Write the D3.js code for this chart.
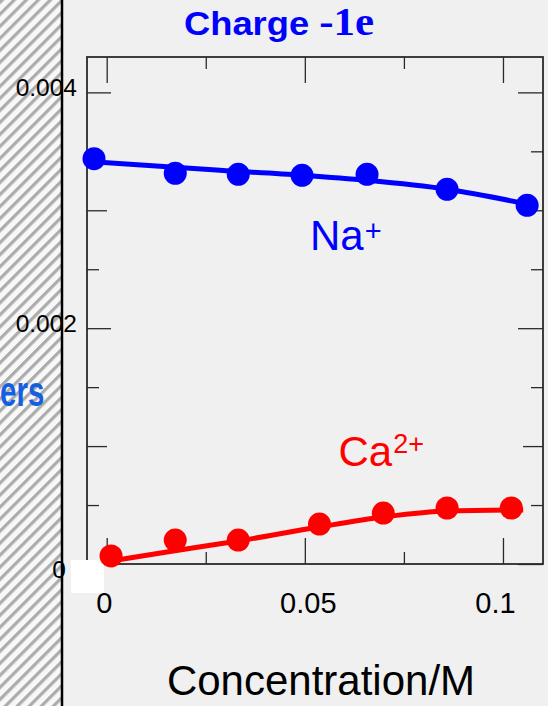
<!DOCTYPE html>
<html>
<head>
<meta charset="utf-8">
<script src="https://cdn.jsdelivr.net/npm/d3@7"></script>
<style>
  html, body { margin: 0; padding: 0; background: #f0f0f0; }
  svg { display: block; }
  text { font-family: "Liberation Sans", Arial, sans-serif; }
</style>
</head>
<body>
<svg id="chart" width="548" height="706"></svg>
<script>
// Na+ points: concentration (M) and value
const naConc = [-0.0032, 0.0173, 0.0332, 0.0493, 0.0657, 0.0859, 0.1061];
const naVal  = [0.003438, 0.003314, 0.003305, 0.003297, 0.003305, 0.003178, 0.003042];
// Ca2+ points
const caConc = [0.0011, 0.0173, 0.0332, 0.0537, 0.0698, 0.0859, 0.1021];
const caVal  = [0.000068, 0.000203, 0.000203, 0.000339, 0.000432, 0.000475, 0.000475];
// Smooth trend curves through each series
const naFitConc = [-0.0017, 0.0286, 0.0493, 0.0657, 0.0859, 0.1076];
const naFitVal  = [0.003407, 0.003339, 0.003297, 0.003254, 0.003178, 0.003042];
const caFitConc = [0.0011, 0.0152, 0.0332, 0.0536, 0.0698, 0.0859, 0.1051];
const caFitVal  = [0.000025, 0.000102, 0.000195, 0.000314, 0.000398, 0.000449, 0.000458];
// Tick values and labels
const xMajorTicks = [0, 0.05, 0.1];
const xMinorTicks = [0.025, 0.075];
const xTickLabels = ["0", "0.05", "0.1"];
const yMajorTicks = [0, 0.002, 0.004];
const yMidTicks   = [0.001, 0.003];
const yMinorTicks = [0.0005, 0.0015, 0.0025, 0.0035];
const yTickLabels = ["0", "0.002", "0.004"];

const svg = d3.select("#chart");
const W = 548, H = 706;
const plot = { left: 87, right: 543, top: 57, bottom: 564 };

const x = d3.scaleLinear().domain([-0.00497, 0.1101]).range([plot.left, plot.right]);
const y = d3.scaleLinear().domain([0, 0.0043]).range([plot.bottom, plot.top]);

// page background
svg.append("rect").attr("width", W).attr("height", H).attr("fill", "#f0f0f0");

// hatched side panel
const defs = svg.append("defs");
const pat = defs.append("pattern")
  .attr("id", "hatch").attr("patternUnits", "userSpaceOnUse")
  .attr("width", 8.5).attr("height", 8.5)
  .attr("patternTransform", "rotate(45)");
pat.append("rect").attr("width", 8.5).attr("height", 8.5).attr("fill", "#f8f8f8");
pat.append("rect").attr("width", 3.2).attr("height", 8.5).attr("fill", "#acacac");
svg.append("rect").attr("x", 0).attr("y", 0).attr("width", 61).attr("height", H)
  .attr("fill", "url(#hatch)");
svg.append("line").attr("x1", 62).attr("x2", 62).attr("y1", 0).attr("y2", H)
  .attr("stroke", "#000").attr("stroke-width", 2.5);

svg.append("text")
  .attr("transform", "translate(0,406) scale(1,1.45)")
  .attr("text-anchor", "start")
  .attr("font-size", 29.5).attr("font-weight", "bold")
  .attr("fill", "#1560e0")
  .text("ers");

// axes frame
const g = svg.append("g");
const tickStyle = sel => {
  sel.select(".domain").remove();
  sel.selectAll(".tick line").attr("stroke", "#2a2a2a").attr("stroke-width", 1.3);
};

function addAxis(axisFn, scale, vals, size, transform, labels) {
  const ax = axisFn(scale).tickValues(vals).tickSize(-size).tickPadding(10)
    .tickFormat(labels ? ((d, i) => labels[i]) : () => "");
  return g.append("g").attr("transform", transform).call(ax).call(tickStyle);
}

// left
const yLab = addAxis(d3.axisLeft, y, yMajorTicks, 24, `translate(${plot.left},0)`, yTickLabels);
addAxis(d3.axisLeft, y, yMidTicks, 20, `translate(${plot.left},0)`);
addAxis(d3.axisLeft, y, yMinorTicks, 12, `translate(${plot.left},0)`);
// right
addAxis(d3.axisRight, y, yMajorTicks, 25, `translate(${plot.right},0)`);
addAxis(d3.axisRight, y, yMidTicks, 20, `translate(${plot.right},0)`);
addAxis(d3.axisRight, y, yMinorTicks, 12, `translate(${plot.right},0)`);
// bottom
const xLab = addAxis(d3.axisBottom, x, xMajorTicks, 26, `translate(0,${plot.bottom})`, xTickLabels);
addAxis(d3.axisBottom, x, xMinorTicks, 12, `translate(0,${plot.bottom})`);
// top
addAxis(d3.axisTop, x, xMajorTicks, 26, `translate(0,${plot.top})`);
addAxis(d3.axisTop, x, xMinorTicks, 12, `translate(0,${plot.top})`);

g.append("rect")
  .attr("x", plot.left).attr("y", plot.top)
  .attr("width", plot.right - plot.left).attr("height", plot.bottom - plot.top)
  .attr("fill", "none").attr("stroke", "#2a2a2a").attr("stroke-width", 1.8);

// tick label styling
yLab.selectAll(".tick text")
  .attr("font-family", "'Liberation Sans', Arial, sans-serif")
  .attr("font-size", 24.5).attr("fill", "#000")
  .attr("dy", d => d === 0 ? "0.55em" : "0.12em")
  .attr("x", d => d === 0 ? -21 : -10);
xLab.selectAll(".tick text")
  .attr("font-family", "'Liberation Sans', Arial, sans-serif")
  .attr("font-size", 29).attr("fill", "#000")
  .attr("y", 28).attr("dx", d => d === 0.1 ? -8 : (d === 0 ? -3 : 3));

// white patch at the lower-left corner
svg.append("rect").attr("x", 71).attr("y", 560).attr("width", 33).attr("height", 33)
  .attr("fill", "#ffffff");

// curves
const line = d3.line().x(d => x(d[0])).y(d => y(d[1])).curve(d3.curveMonotoneX);
svg.append("path").datum(d3.zip(naFitConc, naFitVal)).attr("d", line)
  .attr("fill", "none").attr("stroke", "#0000ff").attr("stroke-width", 5);
svg.append("path").datum(d3.zip(caFitConc, caFitVal)).attr("d", line)
  .attr("fill", "none").attr("stroke", "#ff0000").attr("stroke-width", 5);

// points
svg.append("g").selectAll("circle").data(d3.zip(naConc, naVal)).join("circle")
  .attr("cx", d => x(d[0])).attr("cy", d => y(d[1])).attr("r", 11.5).attr("fill", "#0000ff");
svg.append("g").selectAll("circle").data(d3.zip(caConc, caVal)).join("circle")
  .attr("cx", d => x(d[0])).attr("cy", d => y(d[1])).attr("r", 11.5).attr("fill", "#ff0000");

// series labels
const na = svg.append("text").attr("x", 310).attr("y", 250)
  .attr("font-size", 42).attr("fill", "#0000ff");
na.append("tspan").text("Na");
na.append("tspan").attr("font-size", 29).attr("dx", 1).attr("dy", -9).text("+");

const ca = svg.append("text").attr("x", 338.5).attr("y", 466)
  .attr("font-size", 42).attr("fill", "#ff0000");
ca.append("tspan").text("Ca");
ca.append("tspan").attr("font-size", 27).attr("dx", 1).attr("dy", -13).text("2+");

// axis title
svg.append("text").attr("x", 321).attr("y", 695).attr("text-anchor", "middle")
  .attr("font-size", 42).attr("fill", "#000").text("Concentration/M");

// chart title
const t = svg.append("text")
  .attr("transform", "translate(279,35) scale(1.1,1)")
  .attr("text-anchor", "middle").attr("fill", "#0000ff").attr("font-weight", "bold");
t.append("tspan").attr("font-size", 33).text("Charge ");
t.append("tspan").attr("font-size", 39)
  .attr("font-family", "'Liberation Serif', 'Times New Roman', serif").text("-1e");
</script>
</body>
</html>
